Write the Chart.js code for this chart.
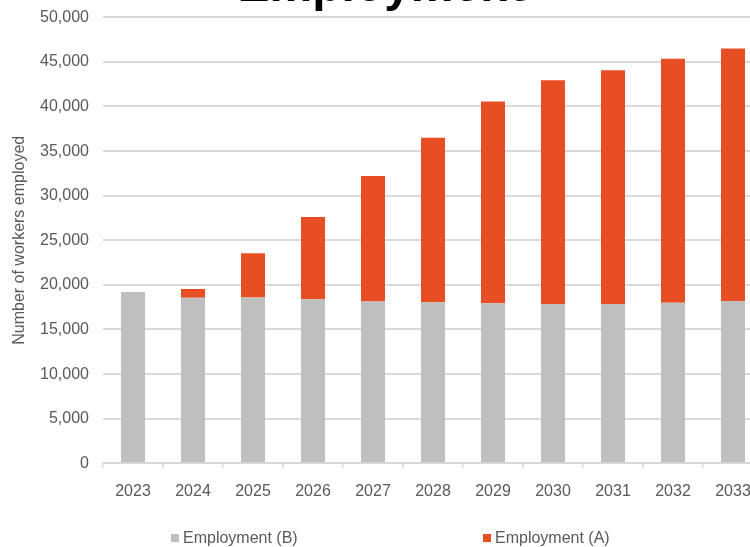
<!DOCTYPE html>
<html>
<head>
<meta charset="utf-8">
<script src="https://cdn.jsdelivr.net/npm/chart.js@4"></script>
<style>
  html, body { margin: 0; padding: 0; background: #fff; overflow: hidden; width: 750px; height: 547px; }
  #wrap { position: absolute; left: 0; top: -60px; width: 770px; height: 610px; }
  .legend { position: absolute; top: 529px; font: 16px "Liberation Sans", Arial, sans-serif; color: #595959; }
  .legend span { display: inline-block; width: 8px; height: 8px; margin-right: 4px; vertical-align: 1px; }
</style>
</head>
<body>
<div id="wrap"><canvas id="chart" width="770" height="610"></canvas></div>
<div class="legend" style="left:171px"><span style="background:#bfbfbf"></span>Employment (B)</div>
<div class="legend" style="left:483px"><span style="background:#e84e23"></span>Employment (A)</div>
<script>
const years = ["2023", "2024", "2025", "2026", "2027", "2028", "2029", "2030", "2031", "2032", "2033"];
const employmentB = [19200, 18550, 18600, 18400, 18150, 18050, 17950, 17850, 17850, 18000, 18200];
const employmentA = [0, 1000, 4950, 9200, 14070, 18450, 22600, 25100, 26200, 27350, 28300];

const grey = "#bfbfbf";
const orange = "#e84e23";
const font = "'Liberation Sans', Arial, sans-serif";

new Chart(document.getElementById("chart"), {
  type: "bar",
  data: {
    labels: years,
    datasets: [
      { label: "Employment (B)", data: employmentB, backgroundColor: grey, barPercentage: 0.4, categoryPercentage: 1 },
      { label: "Employment (A)", data: employmentA, backgroundColor: orange, barPercentage: 0.4, categoryPercentage: 1 }
    ]
  },
  options: {
    responsive: false,
    animation: false,
    layout: { padding: { left: 0, right: 7, top: 0, bottom: 46.7 } },
    plugins: {
      legend: { display: false },
      tooltip: { enabled: false },
      title: {
        display: true,
        text: "Employment",
        color: "#000",
        font: { family: font, size: 48, weight: "bold", lineHeight: 1.2 },
        padding: { top: 18.6, bottom: 1.1 }
      }
    },
    scales: {
      x: {
        stacked: true,
        grid: { drawOnChartArea: false, drawTicks: true, tickLength: 5, color: "#d9d9d9", lineWidth: 1.5 },
        border: { color: "#d9d9d9", width: 2 },
        ticks: { color: "#595959", font: { family: font, size: 16 }, padding: 14, maxRotation: 0 },
        afterFit: s => { s.height = 40; }
      },
      y: {
        stacked: true,
        min: 0,
        max: 50000,
        ticks: {
          stepSize: 5000,
          color: "#595959",
          font: { family: font, size: 16 },
          padding: 14,
          callback: v => v.toLocaleString("en-US")
        },
        grid: { color: "#d9d9d9", lineWidth: 2, drawTicks: false },
        border: { display: false },
        title: {
          display: true,
          text: "Number of workers employed",
          color: "#595959",
          font: { family: font, size: 16 },
          padding: { top: 10, bottom: 0 }
        },
        afterFit: s => { s.width = 103; }
      }
    }
  }
});
</script>
</body>
</html>
